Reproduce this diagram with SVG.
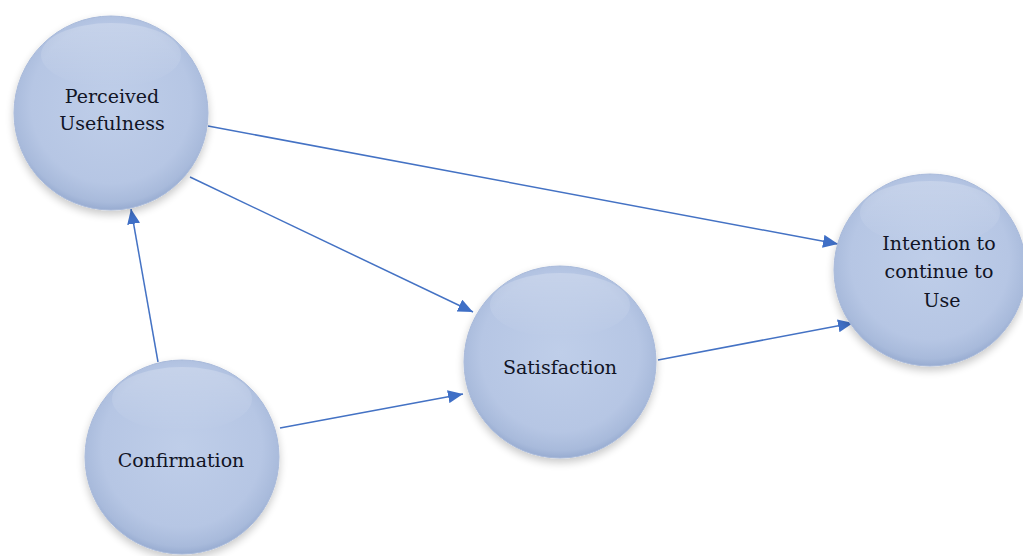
<svg xmlns="http://www.w3.org/2000/svg" width="1023" height="556" viewBox="0 0 1023 556">
  <defs>
    <radialGradient id="ballFill" cx="50%" cy="45%" r="55%">
      <stop offset="0%" stop-color="#BFCEE9"/>
      <stop offset="75%" stop-color="#B6C6E4"/>
      <stop offset="93%" stop-color="#A8BADB"/>
      <stop offset="100%" stop-color="#98ACD1"/>
    </radialGradient>
    <linearGradient id="ballHighlight" x1="0" y1="0" x2="0" y2="1">
      <stop offset="0%" stop-color="#FFFFFF" stop-opacity="0.22"/>
      <stop offset="100%" stop-color="#FFFFFF" stop-opacity="0"/>
    </linearGradient>
    <filter id="shadow" x="-20%" y="-20%" width="140%" height="150%">
      <feGaussianBlur in="SourceAlpha" stdDeviation="4"/>
      <feOffset dx="0" dy="4" result="b"/>
      <feComponentTransfer><feFuncA type="linear" slope="0.22"/></feComponentTransfer>
      <feMerge><feMergeNode/><feMergeNode in="SourceGraphic"/></feMerge>
    </filter>
    <marker id="arrow" viewBox="0 0 15 13" refX="15" refY="6.5" markerWidth="15" markerHeight="13" markerUnits="userSpaceOnUse" orient="auto">
      <path d="M0,0 L15,6.5 L0,13 Z" fill="#3F6FC6"/>
    </marker>
  </defs>
  <style>
    .ball { fill: url(#ballFill); stroke: #A9BADA; stroke-width: 1; filter: url(#shadow); }
    .hl { fill: url(#ballHighlight); }
    .label { font-family: "DejaVu Serif", "Liberation Serif", serif; font-size: 19px; fill: #111425; text-anchor: middle; }
    .conn { stroke: #4472C4; stroke-width: 1.5; fill: none; marker-end: url(#arrow); }
  </style>
  <rect width="1023" height="556" fill="#FFFFFF"/>

  <g id="connectors">
    <line class="conn" x1="208" y1="126" x2="838" y2="244"/>
    <line class="conn" x1="190" y1="177" x2="473" y2="312"/>
    <line class="conn" x1="158" y1="362" x2="131" y2="209"/>
    <line class="conn" x1="280" y1="428" x2="463" y2="394"/>
    <line class="conn" x1="658" y1="360" x2="853" y2="323"/>
  </g>

  <g id="node-perceived-usefulness">
    <circle class="ball" cx="111" cy="113" r="97"/>
    <ellipse class="hl" cx="111" cy="55" rx="70" ry="32"/>
    <text class="label" x="112" y="103">Perceived</text>
    <text class="label" x="112" y="130">Usefulness</text>
  </g>

  <g id="node-confirmation">
    <circle class="ball" cx="182" cy="457" r="97"/>
    <ellipse class="hl" cx="182" cy="399" rx="70" ry="32"/>
    <text class="label" x="181" y="467">Confirmation</text>
  </g>

  <g id="node-satisfaction">
    <circle class="ball" cx="560" cy="362" r="96"/>
    <ellipse class="hl" cx="560" cy="305" rx="70" ry="32"/>
    <text class="label" x="560" y="374">Satisfaction</text>
  </g>

  <g id="node-intention">
    <circle class="ball" cx="930" cy="270" r="96"/>
    <ellipse class="hl" cx="930" cy="213" rx="70" ry="32"/>
    <text class="label" x="939" y="250">Intention to</text>
    <text class="label" x="939" y="278">continue to</text>
    <text class="label" x="942" y="307">Use</text>
  </g>
</svg>
